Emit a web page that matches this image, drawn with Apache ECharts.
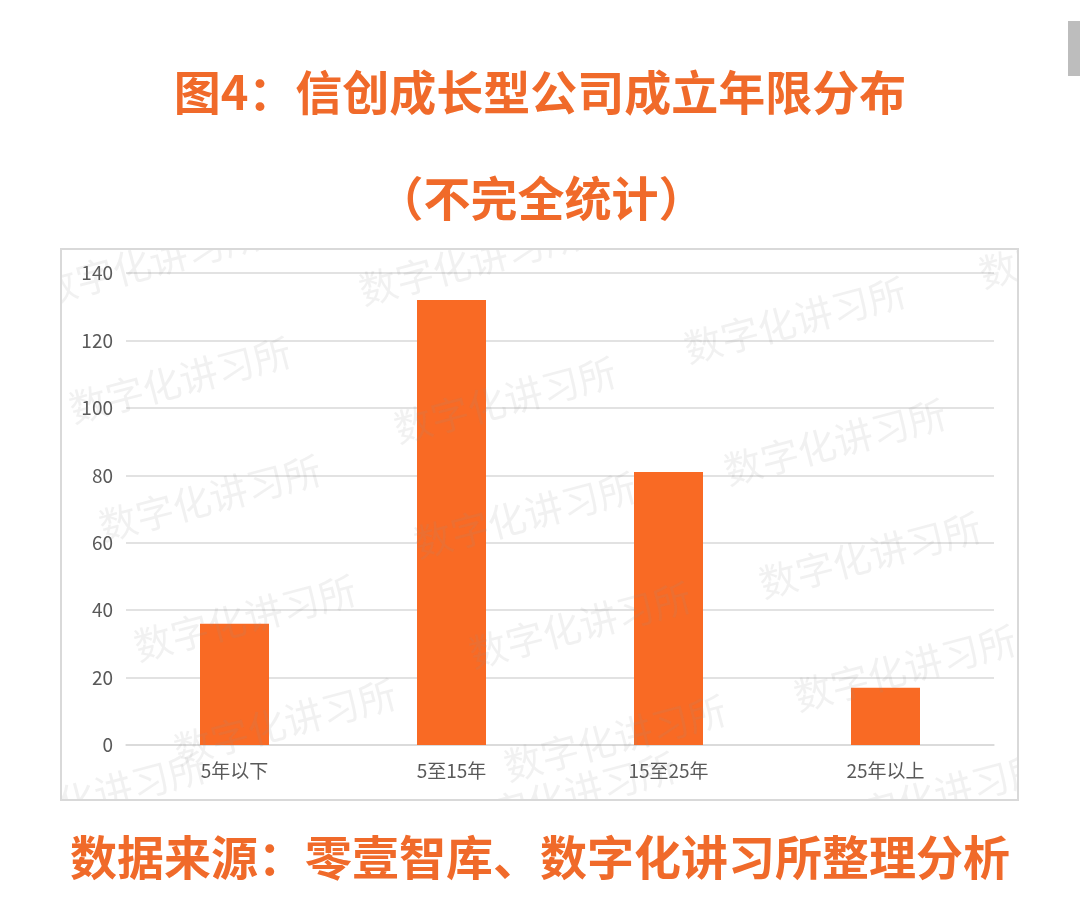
<!DOCTYPE html>
<html>
<head>
<meta charset="utf-8">
<script src="https://cdn.jsdelivr.net/npm/echarts@6/dist/echarts.min.js"></script>
<style>
html,body{margin:0;padding:0;background:#fff;}
#main{width:1080px;height:924px;}
</style>
</head>
<body>
<div id="main"></div>
<script>
var categories = ['5年以下', '5至15年', '15至25年', '25年以上'];
var values = [36, 132, 81, 17];
var titleText = '图4：信创成长型公司成立年限分布';
var subtitleText = '（不完全统计）';
var sourceText = '数据来源：零壹智库、数字化讲习所整理分析';
var watermarkText = '数字化讲习所';
var watermarkSpots = [
  [150, 262], [470, 262], [1090, 245],
  [180, 380], [505, 400], [795, 320],
  [210, 498], [525, 515], [835, 442],
  [245, 618], [580, 625], [870, 555],
  [285, 722], [615, 738], [905, 668],
  [95, 795], [565, 795], [935, 795]
];

var orange = '#F06A2A';
var cjk = '"Noto Sans CJK SC", "Noto Sans", sans-serif';

var chart = echarts.init(document.getElementById('main'));

var graphics = [
  { type: 'rect', shape: { x: 61, y: 249, width: 957, height: 551 }, style: { fill: '#fff' }, z: -10, silent: true }
];
watermarkSpots.forEach(function (p) {
  graphics.push({
    type: 'text', x: p[0], y: p[1], rotation: 0.26, z: 100, silent: true,
    style: { text: watermarkText, fill: 'rgba(150,150,150,0.13)', font: '38px ' + cjk, align: 'center', verticalAlign: 'middle' }
  });
});
// mask outside the chart frame
[[0, 0, 1080, 249], [0, 800, 1080, 124], [0, 0, 61, 924], [1018, 0, 62, 924]].forEach(function (r) {
  graphics.push({ type: 'rect', shape: { x: r[0], y: r[1], width: r[2], height: r[3] }, style: { fill: '#fff' }, z: 200, silent: true });
});
graphics.push(
  { type: 'rect', shape: { x: 61, y: 249, width: 957, height: 551 }, style: { fill: 'none', stroke: '#d9d9d9', lineWidth: 2 }, z: 210, silent: true },
  { type: 'rect', shape: { x: 1068, y: 21, width: 12, height: 55 }, style: { fill: '#bdbdbd' }, z: 210, silent: true },
  { type: 'text', x: 540, y: 92, z: 210, style: { text: titleText, fill: orange, font: 'bold 47px ' + cjk, align: 'center', verticalAlign: 'middle' }, silent: true },
  { type: 'text', x: 541, y: 198, z: 210, style: { text: subtitleText, fill: orange, font: 'bold 47px ' + cjk, align: 'center', verticalAlign: 'middle' }, silent: true },
  { type: 'text', x: 540, y: 857, z: 210, style: { text: sourceText, fill: orange, font: 'bold 47px ' + cjk, align: 'center', verticalAlign: 'middle' }, silent: true }
);

chart.setOption({
  animation: false,
  backgroundColor: '#fff',
  grid: { left: 126, right: 86, top: 273, bottom: 179, containLabel: false },
  xAxis: {
    type: 'category',
    data: categories,
    axisTick: { show: false },
    axisLine: { show: true, lineStyle: { color: '#d9d9d9', width: 1.5 } },
    axisLabel: { color: '#595959', fontSize: 19, fontFamily: cjk, margin: 16 }
  },
  yAxis: {
    type: 'value',
    min: 0, max: 140, interval: 20,
    axisLine: { show: false },
    axisTick: { show: false },
    axisLabel: { color: '#595959', fontSize: 19, fontFamily: cjk, margin: 13 },
    splitLine: { lineStyle: { color: '#d9d9d9', width: 1.5 } }
  },
  series: [{
    type: 'bar',
    data: values,
    barWidth: 69,
    itemStyle: { color: '#F96A24' }
  }],
  graphic: graphics
});
</script>
</body>
</html>
